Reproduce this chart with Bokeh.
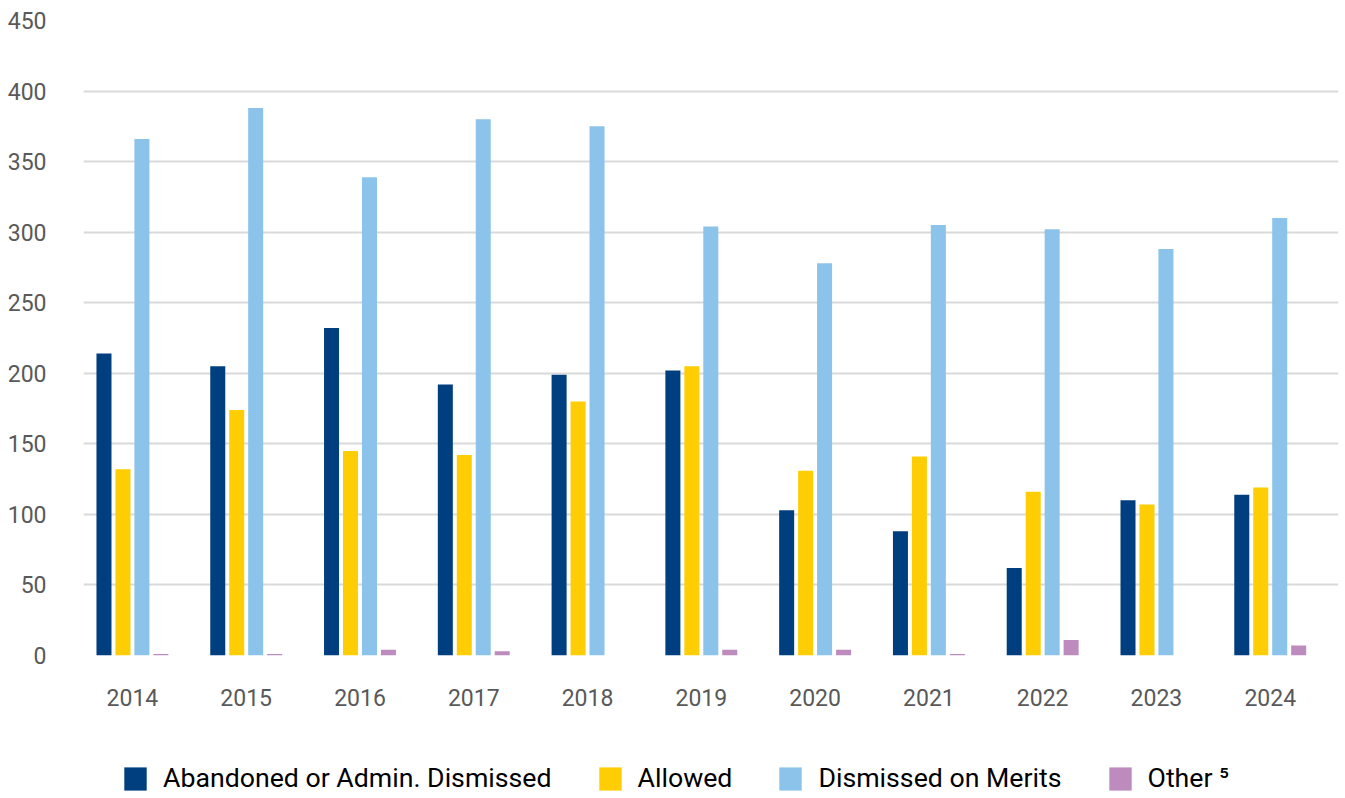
from bokeh.plotting import figure
from bokeh.models import Legend, LegendItem, FixedTicker, Range1d, ColumnDataSource
from bokeh.layouts import column
from bokeh.embed import file_html
from bokeh.resources import INLINE

years = ["2014", "2015", "2016", "2017", "2018", "2019", "2020", "2021", "2022", "2023", "2024"]
abandoned = [214, 205, 232, 192, 199, 202, 103, 88, 62, 110, 114]
allowed = [132, 174, 145, 142, 180, 205, 131, 141, 116, 107, 119]
merits = [366, 388, 339, 380, 375, 304, 278, 305, 302, 288, 310]
other = [1, 1, 4, 3, 0, 4, 4, 1, 11, 0, 7]
series_names = ["Abandoned or Admin. Dismissed", "Allowed", "Dismissed on Merits", "Other \u2075"]
colors = ["#003F7F", "#FFCD03", "#8CC3EA", "#BE8BBF"]
y_ticks = list(range(0, 451, 50))

FONT = "Roboto"

p = figure(width=1345, height=720, output_backend="svg", toolbar_location=None,
           x_range=Range1d(-0.43, 10.6), y_range=Range1d(0, 450),
           min_border_left=83, min_border_right=7, min_border_top=20, min_border_bottom=65)
p.outline_line_color = None
p.background_fill_color = "white"
p.border_fill_color = "white"

offsets = [-0.25, -0.0833, 0.0833, 0.25]
series = [abandoned, allowed, merits, other]
for vals, off, col in zip(series, offsets, colors):
    xs = [i + off for i in range(len(years))]
    p.vbar(x=xs, top=vals, bottom=0, width=0.132, fill_color=col, line_color=None)

p.xgrid.grid_line_color = None
p.ygrid.grid_line_color = "#D9D9D9"
p.ygrid.grid_line_width = 2
p.ygrid.ticker = FixedTicker(ticks=y_ticks)

p.yaxis.ticker = FixedTicker(ticks=y_ticks)
p.yaxis.axis_line_color = None
p.yaxis.major_tick_line_color = None
p.yaxis.minor_tick_line_color = None
p.yaxis.major_label_text_font = FONT
p.yaxis.major_label_text_font_size = "23px"
p.yaxis.major_label_text_color = "#595959"
p.yaxis.major_label_standoff = 31

p.xaxis.ticker = FixedTicker(ticks=list(range(len(years))))
p.xaxis.major_label_overrides = {i: y for i, y in enumerate(years)}
p.xaxis.axis_line_color = None
p.xaxis.major_tick_line_color = None
p.xaxis.minor_tick_line_color = None
p.xaxis.major_label_text_font = FONT
p.xaxis.major_label_text_font_size = "23px"
p.xaxis.major_label_text_color = "#595959"
p.xaxis.major_label_standoff = 27

# legend strip
lf = figure(width=1345, height=78, output_backend="svg", toolbar_location=None,
            x_range=Range1d(0, 1), y_range=Range1d(0, 1), x_axis_type=None, y_axis_type=None,
            min_border=0, min_border_left=0, min_border_right=0, min_border_top=0, min_border_bottom=0)
lf.outline_line_color = None
lf.xgrid.visible = False
lf.ygrid.visible = False
items = []
for col, name in zip(colors, series_names):
    src = ColumnDataSource(data=dict(x=[0], top=[0]))
    r = lf.vbar(x="x", top="top", bottom=0, width=0.0, source=src, fill_color=col, line_color=None)
    items.append(LegendItem(label=name, renderers=[r]))

legend = Legend(items=items, orientation="horizontal", location=(38, 4),
                label_text_font=FONT, label_text_font_size="26.7px", label_text_color="#000000",
                glyph_width=28, glyph_height=29, label_standoff=14, spacing=44,
                border_line_color=None, background_fill_alpha=0, padding=0, margin=0)
lf.add_layout(legend)

layout = column(p, lf, spacing=0)
open("out.html", "w").write(file_html(layout, INLINE))
